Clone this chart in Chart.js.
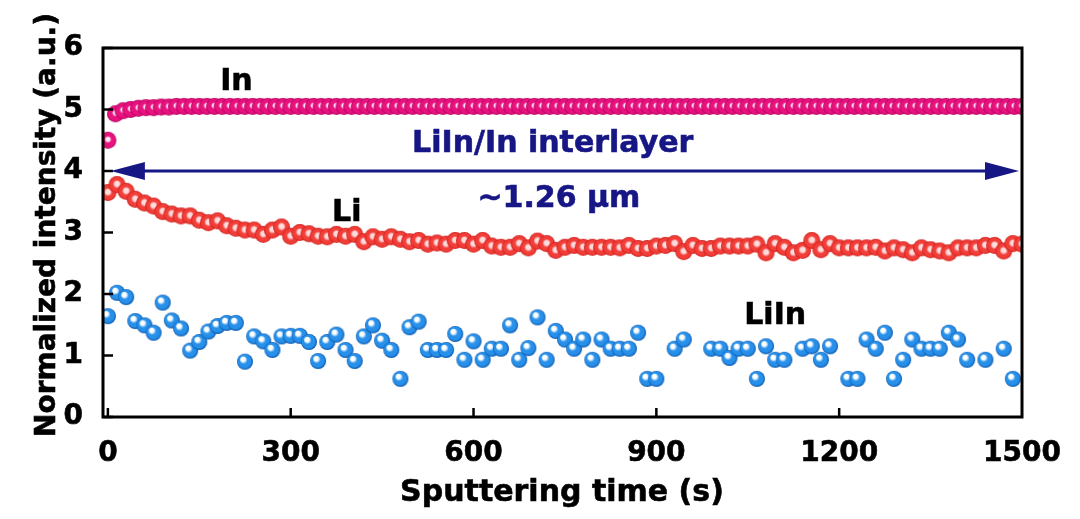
<!DOCTYPE html>
<html>
<head>
<meta charset="utf-8">
<script src="https://cdn.jsdelivr.net/npm/chart.js@4.4.1/dist/chart.umd.min.js"></script>
<style>
  html, body { margin: 0; padding: 0; background: #fff; }
  #wrap { width: 1080px; height: 519px; }
</style>
</head>
<body>
<div id="wrap"><canvas id="chart"></canvas></div>
<script>
// sampling interval of each profile (s)
const IN_STEP = 12.5
const LI_STEP = 15

// In signal, one value every 12.5 s
const inValues = [
    4.50, 4.93, 4.98, 5.00, 5.02, 5.03, 5.03, 5.04, 5.04, 5.05,
    5.05, 5.05, 5.05, 5.05, 5.05, 5.05, 5.05, 5.05, 5.05, 5.05,
    5.05, 5.05, 5.05, 5.05, 5.05, 5.05, 5.05, 5.05, 5.05, 5.05,
    5.05, 5.05, 5.05, 5.05, 5.05, 5.05, 5.05, 5.05, 5.05, 5.05,
    5.05, 5.05, 5.05, 5.05, 5.05, 5.05, 5.05, 5.05, 5.05, 5.05,
    5.05, 5.05, 5.05, 5.05, 5.05, 5.05, 5.05, 5.05, 5.05, 5.05,
    5.05, 5.05, 5.05, 5.05, 5.05, 5.05, 5.05, 5.05, 5.05, 5.05,
    5.05, 5.05, 5.05, 5.05, 5.05, 5.05, 5.05, 5.05, 5.05, 5.05,
    5.05, 5.05, 5.05, 5.05, 5.05, 5.05, 5.05, 5.05, 5.05, 5.05,
    5.05, 5.05, 5.05, 5.05, 5.05, 5.05, 5.05, 5.05, 5.05, 5.05,
    5.05, 5.05, 5.05, 5.05, 5.05, 5.05, 5.05, 5.05, 5.05, 5.05,
    5.05, 5.05, 5.05, 5.05, 5.05, 5.05, 5.05, 5.05, 5.05, 5.05,
    5.05
]

// Li signal, one value every 15 s
const liValues = [
    3.65, 3.78, 3.67, 3.54, 3.48, 3.43, 3.34, 3.30, 3.27, 3.27,
    3.20, 3.16, 3.19, 3.11, 3.07, 3.04, 3.04, 2.97, 3.04, 3.09,
    2.94, 3.00, 2.98, 2.94, 2.93, 2.97, 2.94, 2.97, 2.85, 2.93,
    2.89, 2.93, 2.89, 2.85, 2.87, 2.81, 2.83, 2.81, 2.87, 2.87,
    2.81, 2.87, 2.78, 2.76, 2.76, 2.82, 2.75, 2.86, 2.82, 2.71,
    2.76, 2.79, 2.76, 2.76, 2.76, 2.76, 2.75, 2.79, 2.74, 2.74,
    2.78, 2.79, 2.82, 2.69, 2.79, 2.74, 2.74, 2.78, 2.78, 2.78,
    2.78, 2.81, 2.67, 2.82, 2.76, 2.67, 2.71, 2.87, 2.72, 2.82,
    2.75, 2.75, 2.75, 2.75, 2.76, 2.70, 2.75, 2.72, 2.67, 2.75,
    2.72, 2.70, 2.67, 2.75, 2.75, 2.75, 2.79, 2.79, 2.70, 2.82,
    2.81
]

// LiIn signal, one value every 15 s (null = no point shown)
const liInValues = [
    1.64, 2.02, 1.95, 1.56, 1.49, 1.37, 1.86, 1.57, 1.44, 1.08,
    1.22, 1.39, 1.48, 1.53, 1.53, 0.90, 1.31, 1.23, 1.09, 1.31,
    1.32, 1.32, 1.22, 0.91, 1.22, 1.34, 1.09, 0.91, 1.31, 1.49,
    1.24, 1.09, 0.62, 1.46, 1.55, 1.09, 1.09, 1.09, 1.35, 0.93,
    1.23, 0.93, 1.11, 1.11, 1.49, 0.93, 1.12, 1.62, 0.93, 1.40,
    1.26, 1.11, 1.26, 0.93, 1.26, 1.11, 1.11, 1.11, 1.37, 0.62,
    0.62, null, 1.11, 1.26, null, null, 1.11, 1.11, 0.96, 1.11,
    1.11, 0.62, 1.15, 0.93, 0.93, null, 1.11, 1.15, 0.93, 1.15,
    null, 0.62, 0.62, 1.26, 1.11, 1.37, 0.62, 0.93, 1.26, 1.11,
    1.11, 1.11, 1.37, 1.26, 0.93, null, 0.93, null, 1.11, 0.62,
    null
]

const xTicks = [0, 300, 600, 900, 1200, 1500]
const yTicks = [0, 1, 2, 3, 4, 5, 6]

const FONT = 'DejaVu Sans'
const NAVY = '#161685'

function toPoints(values, step) {
    const pts = []
    values.forEach((v, i) => {
        if (v !== null) pts.push({ x: i * step, y: v })
    })
    return pts
}

// shiny bead used as point marker
function ball(r, light, base, dark, hx, hy, spot) {
    const c = document.createElement('canvas')
    const s = Math.ceil(r * 2) + 2
    c.width = s
    c.height = s
    const g = c.getContext('2d')
    const cx = s / 2, cy = s / 2
    const grad = g.createRadialGradient(cx + hx * r, cy + hy * r, 0, cx, cy, r)
    grad.addColorStop(0, light)
    grad.addColorStop(spot * 0.55, light)
    grad.addColorStop(spot, base)
    grad.addColorStop(0.8, base)
    grad.addColorStop(1, dark)
    g.fillStyle = grad
    g.beginPath()
    g.arc(cx, cy, r, 0, Math.PI * 2)
    g.fill()
    return c
}

const inBall = ball(8.5, '#ffe9f5', '#e8127f', '#b3005e', 0, -0.15, 0.42)
const liBall = ball(8.5, '#ffdcdc', '#f23e39', '#cc1c18', 0, -0.1, 0.5)
const liInBall = ball(8, '#ffffff', '#2790ea', '#0a55aa', -0.35, -0.42, 0.5)

function boldText(ctx, text, x, y) {
    ctx.fillText(text, x, y)
    ctx.strokeText(text, x, y)
}

// frame, inside ticks, arrow, labels
const decorations = {
    id: 'decorations',
    afterDatasetsDraw(chart) {
        const ctx = chart.ctx
        const a = chart.chartArea
        const xs = chart.scales.x
        const ys = chart.scales.y
        ctx.save()

        ctx.strokeStyle = '#000'
        ctx.lineWidth = 3
        ctx.strokeRect(a.left, a.top, a.right - a.left, a.bottom - a.top)

        ctx.lineWidth = 2.5
        xTicks.forEach(v => {
            const px = xs.getPixelForValue(v)
            if (px > a.right - 2) return
            ctx.beginPath()
            ctx.moveTo(px, a.bottom)
            ctx.lineTo(px, a.bottom - 9)
            ctx.stroke()
        })
        yTicks.forEach(v => {
            const py = ys.getPixelForValue(v)
            ctx.beginPath()
            ctx.moveTo(a.left, py)
            ctx.lineTo(a.left + 10, py)
            ctx.stroke()
        })

        // double arrow across the interlayer
        const ay = ys.getPixelForValue(4)
        const x0 = xs.getPixelForValue(0) + 3
        const x1 = a.right - 3
        const head = 34, half = 9
        ctx.strokeStyle = NAVY
        ctx.fillStyle = NAVY
        ctx.lineWidth = 3
        ctx.beginPath()
        ctx.moveTo(x0 + head - 2, ay)
        ctx.lineTo(x1 - head + 2, ay)
        ctx.stroke()
        ctx.beginPath()
        ctx.moveTo(x0, ay)
        ctx.lineTo(x0 + head, ay - half)
        ctx.lineTo(x0 + head, ay + half)
        ctx.closePath()
        ctx.fill()
        ctx.beginPath()
        ctx.moveTo(x1, ay)
        ctx.lineTo(x1 - head, ay - half)
        ctx.lineTo(x1 - head, ay + half)
        ctx.closePath()
        ctx.fill()

        ctx.textAlign = 'center'
        ctx.textBaseline = 'alphabetic'
        ctx.lineWidth = 0.6
        ctx.font = 'bold 30px "' + FONT + '"'
        boldText(ctx, 'LiIn/In interlayer', xs.getPixelForValue(730), ys.getPixelForValue(4.49) + 11)
        boldText(ctx, '~1.26 μm', xs.getPixelForValue(740), ys.getPixelForValue(3.6) + 11)

        ctx.fillStyle = '#000'
        ctx.strokeStyle = '#000'
        boldText(ctx, 'In', xs.getPixelForValue(211), ys.getPixelForValue(5.5) + 11)
        boldText(ctx, 'Li', xs.getPixelForValue(392), ys.getPixelForValue(3.37) + 11)
        boldText(ctx, 'LiIn', xs.getPixelForValue(1095), ys.getPixelForValue(1.69) + 11)

        // axis titles
        boldText(ctx, 'Sputtering time (s)', 562, 501)
        ctx.translate(45, 225)
        ctx.rotate(-Math.PI / 2)
        ctx.font = 'bold 28px "' + FONT + '"'
        boldText(ctx, 'Normalized intensity (a.u.)', 0, 10)
        ctx.restore()
    }
}

const tickFont = { family: FONT, size: 28, weight: 'bold' }

new Chart(document.getElementById('chart'), {
    type: 'scatter',
    data: {
        datasets: [
            {
                label: 'LiIn',
                data: toPoints(liInValues, LI_STEP),
                pointStyle: liInBall,
                pointRadius: 8,
                clip: 0
            },
            {
                label: 'Li',
                data: toPoints(liValues, LI_STEP),
                pointStyle: liBall,
                pointRadius: 8.5,
                clip: 0
            },
            {
                label: 'In',
                data: toPoints(inValues, IN_STEP),
                pointStyle: inBall,
                pointRadius: 8.5,
                clip: 0
            }
        ]
    },
    plugins: [decorations],
    options: {
        responsive: true,
        maintainAspectRatio: false,
        animation: false,
        layout: { padding: { top: 48, right: 58, bottom: 0, left: 0 } },
        plugins: {
            legend: { display: false },
            tooltip: { enabled: false }
        },
        scales: {
            x: {
                type: 'linear',
                min: -8,
                max: 1500,
                afterBuildTicks: scale => { scale.ticks = xTicks.map(v => ({ value: v })) },
                afterFit: scale => { scale.height = 102 },
                grid: { display: false },
                border: { display: false },
                ticks: {
                    font: tickFont, color: '#000', padding: 12, maxRotation: 0,
                    textStrokeColor: '#000', textStrokeWidth: 0.6,
                    callback: v => String(v)
                }
            },
            y: {
                min: 0,
                max: 6,
                afterBuildTicks: scale => { scale.ticks = yTicks.map(v => ({ value: v })) },
                afterFit: scale => { scale.width = 103 },
                grid: { display: false },
                border: { display: false },
                ticks: {
                    font: tickFont, color: '#000', padding: 12,
                    textStrokeColor: '#000', textStrokeWidth: 0.6,
                    callback: v => String(v)
                }
            }
        }
    }
})
</script>
</body>
</html>
